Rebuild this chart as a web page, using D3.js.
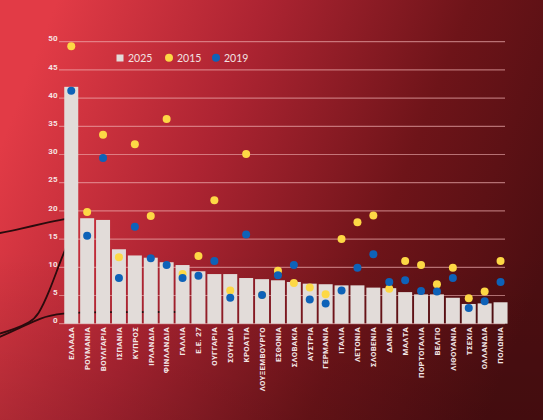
<!DOCTYPE html>
<html>
<head>
<meta charset="utf-8">
<script src="https://cdn.jsdelivr.net/npm/d3@7"></script>
<style>
  html, body { margin: 0; padding: 0; background: #6a1419; }
  svg { display: block; }
</style>
</head>
<body>
<svg id="chart" width="543" height="420"></svg>
<script>
const countries = ['ΕΛΛΑΔΑ', 'ΡΟΥΜΑΝΙΑ', 'ΒΟΥΛΓΑΡΙΑ', 'ΙΣΠΑΝΙΑ', 'ΚΥΠΡΟΣ', 'ΙΡΛΑΝΔΙΑ', 'ΦΙΝΛΑΝΔΙΑ',
  'ΓΑΛΛΙΑ', 'Ε.Ε. 27', 'ΟΥΓΓΑΡΙΑ', 'ΣΟΥΗΔΙΑ', 'ΚΡΟΑΤΙΑ', 'ΛΟΥΞΕΜΒΟΥΡΓΟ', 'ΕΣΘΟΝΙΑ',
  'ΣΛΟΒΑΚΙΑ', 'ΑΥΣΤΡΙΑ', 'ΓΕΡΜΑΝΙΑ', 'ΙΤΑΛΙΑ', 'ΛΕΤΟΝΙΑ', 'ΣΛΟΒΕΝΙΑ', 'ΔΑΝΙΑ',
  'ΜΑΛΤΑ', 'ΠΟΡΤΟΓΑΛΙΑ', 'ΒΕΛΓΙΟ', 'ΛΙΘΟΥΑΝΙΑ', 'ΤΣΕΧΙΑ', 'ΟΛΛΑΝΔΙΑ', 'ΠΟΛΩΝΙΑ'];

const values2025 = [42.0, 18.7, 18.4, 13.2, 12.1, 11.7, 10.9, 10.4, 9.3, 8.8, 8.8, 8.1, 7.9, 7.7,
  7.4, 7.1, 7.0, 6.8, 6.8, 6.4, 6.3, 5.6, 5.2, 5.2, 4.6, 3.5, 3.6, 3.8];

const values2015 = [49.2, 19.8, 33.5, 11.8, 31.8, 19.1, 36.3, 8.8, 12.0, 21.9, 5.9, 30.1, 5.1, 9.4,
  7.2, 6.4, 5.2, 15.0, 18.0, 19.2, 6.2, 11.1, 10.4, 7.0, 9.9, 4.5, 5.7, 11.1];

const values2019 = [41.3, 15.6, 29.4, 8.1, 17.2, 11.6, 10.4, 8.1, 8.5, 11.1, 4.6, 15.8, 5.1, 8.6,
  10.4, 4.3, 3.6, 5.9, 9.9, 12.3, 7.4, 7.7, 5.8, 5.7, 8.1, 2.8, 4.0, 7.4];

const yTicks = [0, 5, 10, 15, 20, 25, 30, 35, 40, 45, 50];

const svg = d3.select('#chart');
const width = +svg.attr('width');
const height = +svg.attr('height');

// background
const defs = svg.append('defs');
const grad = defs.append('linearGradient')
  .attr('id', 'bg')
  .attr('x1', '0').attr('y1', '0.35')
  .attr('x2', '1').attr('y2', '0.65');
grad.append('stop').attr('offset', '0').attr('stop-color', '#e23b46');
grad.append('stop').attr('offset', '0.35').attr('stop-color', '#ad2432');
grad.append('stop').attr('offset', '0.7').attr('stop-color', '#6e1419');
grad.append('stop').attr('offset', '1').attr('stop-color', '#4c0e11');

const shade = defs.append('linearGradient')
  .attr('id', 'shade')
  .attr('x1', '0').attr('y1', '0')
  .attr('x2', '0').attr('y2', '1');
shade.append('stop').attr('offset', '0.6').attr('stop-color', '#000').attr('stop-opacity', 0);
shade.append('stop').attr('offset', '1').attr('stop-color', '#000').attr('stop-opacity', 0.12);

svg.append('rect').attr('width', width).attr('height', height).attr('fill', 'url(#bg)');
svg.append('rect').attr('width', width).attr('height', height).attr('fill', 'url(#shade)');

const x = d3.scaleBand()
  .domain(countries)
  .range([63.3, 508.5])
  .paddingInner(0.12)
  .paddingOuter(0.06);

const y = d3.scaleLinear()
  .domain([0, 50])
  .range([323.7, 41.7]);

// decorative lines on the left
const deco = svg.append('g')
  .attr('fill', 'none')
  .attr('stroke', '#2a0b0d')
  .attr('stroke-width', 1.8)
  .attr('stroke-linecap', 'round');
const curve = d3.line().curve(d3.curveBasis);
deco.append('path').attr('d', curve([[-5, 234], [20, 229], [45, 223], [70, 218]]));
deco.append('path').attr('d', curve([[-5, 335], [15, 329], [30, 322], [38, 316], [50, 290], [60, 262], [70, 238]]));
deco.append('path').attr('d', curve([[-5, 339], [20, 328], [40, 318], [60, 313], [100, 312], [175, 312]]));

// grid
svg.append('g')
  .selectAll('line')
  .data(yTicks)
  .join('line')
  .attr('x1', 59)
  .attr('x2', 505)
  .attr('y1', (d) => y(d))
  .attr('y2', (d) => y(d))
  .attr('stroke', '#f0b0b2')
  .attr('stroke-opacity', 0.6)
  .attr('stroke-width', 1.2);

// y axis labels
svg.append('g')
  .selectAll('text')
  .data(yTicks)
  .join('text')
  .attr('x', 57.5)
  .attr('y', (d) => y(d) - 2.5)
  .attr('text-anchor', 'end')
  .attr('dominant-baseline', 'middle')
  .attr('font-family', 'Roboto, sans-serif')
  .attr('font-weight', 'bold')
  .attr('font-size', 8)
  .attr('fill', '#f6e4e4')
  .text((d) => d);

// bars
svg.append('g')
  .selectAll('rect')
  .data(countries)
  .join('rect')
  .attr('x', (d) => x(d))
  .attr('y', (d, i) => y(values2025[i]))
  .attr('width', x.bandwidth())
  .attr('height', (d, i) => y(0) - y(values2025[i]))
  .attr('fill', '#e2dcd9');

// x labels
svg.append('g')
  .selectAll('text')
  .data(countries)
  .join('text')
  .attr('transform', (d) => `translate(${x(d) + x.bandwidth() / 2 + 2.8},327) rotate(-90)`)
  .attr('text-anchor', 'end')
  .attr('font-family', 'Roboto, sans-serif')
  .attr('font-weight', 'bold')
  .attr('font-size', 7.8)
  .attr('letter-spacing', 0.35)
  .attr('fill', '#f3e6e6')
  .text((d) => d);

// dots
const r = 4;
svg.append('g')
  .selectAll('circle')
  .data(countries)
  .join('circle')
  .attr('cx', (d) => x(d) + x.bandwidth() / 2)
  .attr('cy', (d, i) => y(values2015[i]))
  .attr('r', r)
  .attr('fill', '#fdd845');

svg.append('g')
  .selectAll('circle')
  .data(countries)
  .join('circle')
  .attr('cx', (d) => x(d) + x.bandwidth() / 2)
  .attr('cy', (d, i) => y(values2019[i]))
  .attr('r', r)
  .attr('fill', '#0e62b8');

// legend
const legend = svg.append('g').attr('font-family', 'Lato, sans-serif').attr('font-size', 10.5).attr('fill', '#f2e2e2');
legend.append('rect').attr('x', 116.5).attr('y', 54.5).attr('width', 7).attr('height', 7).attr('fill', '#e2dcd9');
legend.append('text').attr('x', 128).attr('y', 61.5).text('2025');
legend.append('circle').attr('cx', 169).attr('cy', 57.8).attr('r', r).attr('fill', '#fdd845');
legend.append('text').attr('x', 177).attr('y', 61.5).text('2015');
legend.append('circle').attr('cx', 216).attr('cy', 57.8).attr('r', r).attr('fill', '#0e62b8');
legend.append('text').attr('x', 224).attr('y', 61.5).text('2019');
</script>
</body>
</html>
